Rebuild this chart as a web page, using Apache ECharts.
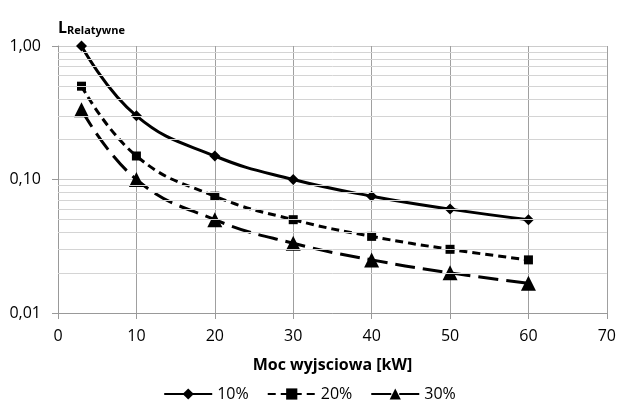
<!DOCTYPE html>
<html><head><meta charset="utf-8">
<script src="https://cdn.jsdelivr.net/npm/echarts@6/dist/echarts.min.js"></script>
<style>html,body{margin:0;padding:0;background:#fff}#c{width:619px;height:407px}</style>
</head><body><div id="c"></div>
<script>
const xValues = [3, 10, 20, 30, 40, 50, 60];
const s10 = [1.0, 0.3, 0.15, 0.1, 0.075, 0.06, 0.05];
const s20 = [0.5, 0.15, 0.075, 0.05, 0.0375, 0.03, 0.025];
const s30 = [0.333, 0.1, 0.05, 0.0333, 0.025, 0.02, 0.0167];
const seriesNames = ['10%', '20%', '30%'];
const minorLevels = [0.02,0.03,0.04,0.05,0.06,0.07,0.08,0.09,0.2,0.3,0.4,0.5,0.6,0.7,0.8,0.9];

const font = '"Open Sans", sans-serif';
const pair = arr => arr.map((v, i) => [xValues[i], v]);

const chart = echarts.init(document.getElementById('c'));
chart.setOption({
  animation: false,
  backgroundColor: '#fff',
  textStyle: { fontFamily: font },
  grid: { left: 58, right: 11, top: 46, bottom: 94, containLabel: false },
  title: {
    text: '{a|L}{b|Relatywne}',
    left: 53, top: 13,
    textStyle: { rich: {
      a: { fontFamily: font, fontWeight: 'bold', fontSize: 16, color: '#000', verticalAlign: 'bottom' },
      b: { fontFamily: font, fontWeight: 'bold', fontSize: 11, color: '#000', padding: [7, 0, 0, 0], verticalAlign: 'bottom' }
    } }
  },
  legend: {
    bottom: 0, left: 'center', itemWidth: 48, itemHeight: 14, itemGap: 18,
    textStyle: { fontFamily: font, fontSize: 16, color: '#000' },
    data: seriesNames
  },
  xAxis: {
    type: 'value', min: 0, max: 70, interval: 10,
    name: 'Moc wyjsciowa [kW]', nameLocation: 'middle', nameGap: 44,
    nameTextStyle: { fontFamily: font, fontWeight: 'bold', fontSize: 16, color: '#000' },
    axisLine: { show: true, lineStyle: { color: '#999', width: 1 } },
    axisTick: { show: true, length: 6, lineStyle: { color: '#999' } },
    axisLabel: { fontFamily: font, fontSize: 16, color: '#000', margin: 15 },
    splitLine: { show: true, lineStyle: { color: '#a0a0a0', width: 1 } }
  },
  yAxis: {
    type: 'log', logBase: 10, min: 0.01, max: 1,
    axisLine: { show: true, lineStyle: { color: '#999', width: 1 } },
    axisTick: { show: true, length: 6, lineStyle: { color: '#999' } },
    axisLabel: { fontFamily: font, fontSize: 16, color: '#000', margin: 17,
      formatter: v => v.toFixed(2).replace('.', ',') },
    splitLine: { show: true, lineStyle: { color: '#cccccc', width: 1 } }
  },
  series: [
    {
      name: 'grid-minor', type: 'line', data: [], silent: true,
      markLine: {
        silent: true, symbol: ['none', 'none'], label: { show: false },
        lineStyle: { color: '#d4d4d4', width: 1, type: 'solid' },
        emphasis: { disabled: true },
        data: minorLevels.map(v => ({ yAxis: v }))
      }
    },
    {
      name: seriesNames[0], type: 'line', data: pair(s10), smooth: 0.45,
      symbol: 'diamond', symbolSize: 11,
      lineStyle: { color: '#000', width: 3, type: 'solid' },
      itemStyle: { color: '#000' }
    },
    {
      name: seriesNames[1], type: 'line', data: pair(s20), smooth: 0.45,
      symbol: 'rect', symbolSize: 9,
      lineStyle: { color: '#000', width: 3, type: [8, 5] },
      itemStyle: { color: '#000' }
    },
    {
      name: seriesNames[2], type: 'line', data: pair(s30), smooth: 0.45,
      symbol: 'triangle', symbolSize: 15,
      lineStyle: { color: '#000', width: 3, type: [20, 8] },
      itemStyle: { color: '#000' }
    }
  ]
});
</script></body></html>
